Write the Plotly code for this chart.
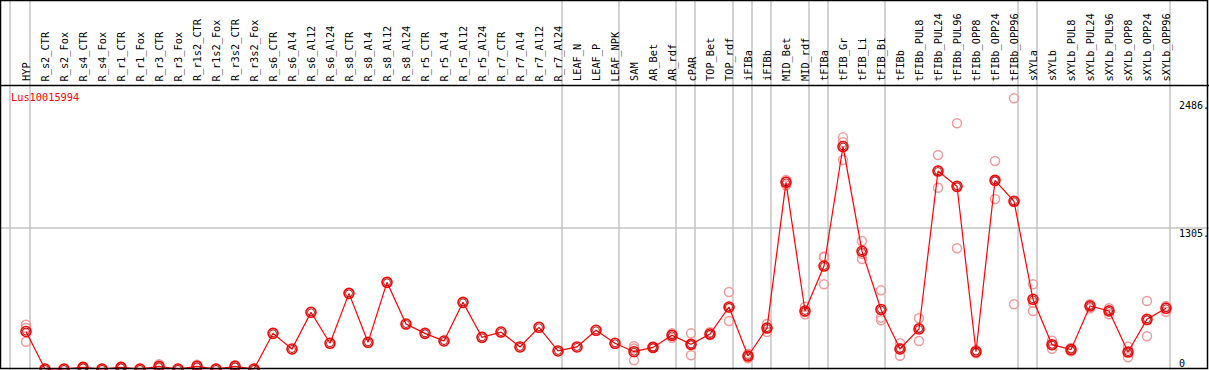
import plotly.graph_objects as go

title = "Lus10015994"
categories = ["HYP", "R_s2_CTR", "R_s2_Fox", "R_s4_CTR", "R_s4_Fox", "R_r1_CTR", "R_r1_Fox",
              "R_r3_CTR", "R_r3_Fox", "R_r1s2_CTR", "R_r1s2_Fox", "R_r3s2_CTR", "R_r3s2_Fox",
              "R_s6_CTR", "R_s6_Al4", "R_s6_Al12", "R_s6_Al24", "R_s8_CTR", "R_s8_Al4", "R_s8_Al12",
              "R_s8_Al24", "R_r5_CTR", "R_r5_Al4", "R_r5_Al12", "R_r5_Al24", "R_r7_CTR", "R_r7_Al4",
              "R_r7_Al12", "R_r7_Al24", "LEAF_N", "LEAF_P", "LEAF_NPK", "SAM", "AR_Bet", "AR_rdf",
              "cPAR", "TOP_Bet", "TOP_rdf", "iFIBa", "iFIBb", "MID_Bet", "MID_rdf", "tFIBa",
              "tFIB_Gr", "tFIB_Li", "tFIB_Bi", "tFIBb", "tFIBb_PUL8", "tFIBb_PUL24", "tFIBb_PUL96",
              "tFIBb_OPP8", "tFIBb_OPP24", "tFIBb_OPP96", "sXYLa", "sXYLb", "sXYLb_PUL8",
              "sXYLb_PUL24", "sXYLb_PUL96", "sXYLb_OPP8", "sXYLb_OPP24", "sXYLb_OPP96"]

means = [347, 0, 0, 15, 0, 15, 0, 25, 0, 25, 0, 25, 0,
         330, 185, 525, 238, 700, 247, 802, 416, 330, 259, 617, 293, 342, 204, 386, 167,
         204, 358, 238, 160, 200, 312, 228, 324, 574, 120, 379, 1728, 537, 953,
         2059, 1090, 551, 185, 370, 1832, 1691, 160, 1746, 1552, 645, 225, 179,
         583, 537, 157, 460, 562]

rep1 = [410, 0, 0, 20, 0, 20, 0, 45, 0, 40, 0, 35, 0,
        None, None, None, None, None, None, None, None, None, None, None, None, None, None, None, None,
        None, None, None, 210, 205, 330, 330, 340, 713, 140, 416, 1750, 577, 1041,
        2144, 1185, 728, 238, 469, 1981, 2274, 175, 1925, 2505, 784, 262, 195,
        599, 562, 206, 629, 583]
rep2 = [380, 0, 0, 15, 0, 15, 0, 20, 0, 25, 0, 25, 0,
        None, None, None, None, None, None, None, None, None, None, None, None, None, None, None, None,
        None, None, None, 190, 200, 318, 227, 320, 565, 120, 379, 1735, 528, 1034,
        2098, 1067, 475, 194, 382, 1837, 1682, 160, 1740, 1552, 614, 225, 179,
        588, 543, 157, 448, 573]
rep3 = [252, 0, 0, 10, 0, 10, 0, 10, 0, 10, 0, 15, 0,
        None, None, None, None, None, None, None, None, None, None, None, None, None, None, None, None,
        None, None, None, 80, 195, 290, 127, 312, 444, 100, 342, 1700, 506, 784,
        1934, 1018, 451, 123, 259, 1678, 1117, 145, 1573, 599, 537, 188, 163,
        562, 506, 108, 303, 530]

group_breaks = [0, 28, 31, 34, 35, 37, 38, 39, 41, 42, 45, 52, 53, 60]
ytick_vals = [2486, 1305, 0]
ytick_text = ["2486.", "1305.", "0"]

W, H = 1209, 370
col_px = 19.0
x0_px = 26.0
zero_px = 369.0
px_per_unit = 141.0 / 1305.0

n = len(categories)
xs = list(range(n))
x_range = [-x0_px / col_px, (W - x0_px) / col_px]
y_range = [-(H - zero_px) / px_per_unit, zero_px / px_per_unit]

fig = go.Figure()

rx, ry = [], []
for reps in (rep1, rep2, rep3):
    for i, v in enumerate(reps):
        if v is not None:
            rx.append(i)
            ry.append(v)
fig.add_trace(go.Scatter(x=rx, y=ry, mode="markers",
                         marker=dict(symbol="circle-open", size=9, color="#f09a9a",
                                     line=dict(width=1.5, color="#f09a9a")),
                         hoverinfo="skip", showlegend=False))
fig.add_trace(go.Scatter(x=xs, y=means, mode="lines",
                         line=dict(color="#ff0000", width=1.2),
                         hoverinfo="skip", showlegend=False))
fig.add_trace(go.Scatter(x=xs, y=means, mode="markers",
                         marker=dict(symbol="circle-open", size=10, color="#ff0000",
                                     line=dict(width=1.6, color="#ff0000")),
                         showlegend=False))
fig.add_trace(go.Scatter(x=xs, y=means, mode="markers",
                         marker=dict(symbol="circle-open", size=7, color="#9a0000",
                                     line=dict(width=0.9, color="#9a0000")),
                         hoverinfo="skip", showlegend=False))

shapes = []
grey = "#c4c4c4"
sep_positions = [-0.84] + [b + 0.21 for b in group_breaks]
for s in sep_positions:
    shapes.append(dict(type="line", xref="x", yref="paper", x0=s, x1=s, y0=0, y1=1,
                       line=dict(color=grey, width=1.5), layer="below"))
shapes.append(dict(type="line", xref="paper", yref="y", x0=0, x1=1, y0=1305, y1=1305,
                   line=dict(color=grey, width=1.5), layer="below"))
header_y = 1 - 85.5 / H
shapes.append(dict(type="line", xref="paper", yref="paper", x0=0, x1=1, y0=header_y, y1=header_y,
                   line=dict(color="black", width=1.5)))
shapes.append(dict(type="rect", xref="paper", yref="paper", x0=0.5 / W, x1=1 - 1.5 / W,
                   y0=1.5 / H, y1=1 - 0.5 / H, line=dict(color="black", width=1.5)))

annotations = []
mono = "DejaVu Sans Mono"
for i, c in enumerate(categories):
    annotations.append(dict(x=i, y=1 - 83.5 / H, xref="x", yref="paper", text=c, textangle=-90,
                            showarrow=False, xanchor="center", yanchor="bottom",
                            font=dict(family=mono, size=10.3, color="black")))
annotations.append(dict(x=9 / W, y=1 - 97 / H, xref="paper", yref="paper", text=title,
                        showarrow=False, xanchor="left", yanchor="middle",
                        font=dict(family=mono, size=10.3, color="#ff0000")))
for v, t in zip(ytick_vals, ytick_text):
    shift = 6 if v == 0 else -5
    annotations.append(dict(x=1177 / W, y=v, xref="paper", yref="y", text=t,
                            showarrow=False, xanchor="left", yanchor="middle", yshift=shift,
                            font=dict(family=mono, size=10, color="black")))

fig.update_layout(
    width=W, height=H,
    margin=dict(l=0, r=0, t=0, b=0),
    paper_bgcolor="white", plot_bgcolor="white",
    xaxis=dict(range=x_range, visible=False, fixedrange=True),
    yaxis=dict(range=y_range, visible=False, fixedrange=True),
    shapes=shapes, annotations=annotations, showlegend=False,
)

fig.write_html("out.html", config={"displayModeBar": False},
               post_script="document.body.style.margin='0';document.body.style.overflow='hidden';")
